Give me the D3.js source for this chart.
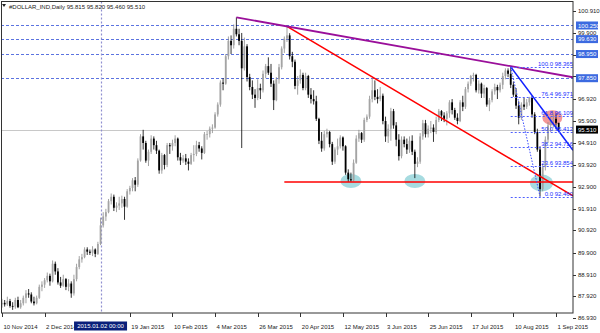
<!DOCTYPE html>
<html>
<head>
<meta charset="utf-8">
<script src="https://cdn.jsdelivr.net/npm/d3@7"></script>
<style>
  body { margin: 0; background: #fff; }
  text { font-family: "Liberation Sans", Arial, sans-serif; }
</style>
</head>
<body>
<svg id="chart" width="600" height="333"></svg>
<script>
// daily bars, one row per day: [day, open, high, low, close]
const nov14 = [
  [10,87.55,87.80,87.40,87.62],[11,87.62,87.75,87.45,87.55],[12,87.55,87.90,87.48,87.70],
  [13,87.70,87.80,87.40,87.48],[14,87.48,87.65,87.30,87.45],[17,87.45,87.85,87.35,87.75],
  [18,87.75,87.90,87.38,87.42],[19,87.42,87.75,87.35,87.60],[20,87.60,87.95,87.50,87.85],
  [21,87.85,88.20,87.60,88.05],[24,88.05,88.25,87.85,88.00],[25,88.00,88.10,87.60,87.68],
  [26,87.68,87.90,87.50,87.60],[27,87.60,87.95,87.55,87.85],[28,87.85,88.45,87.80,88.35]
];
const dec14 = [
  [1,88.35,88.60,88.15,88.45],[2,88.45,88.75,88.30,88.65],[3,88.65,89.00,88.55,88.85],
  [4,88.85,88.95,88.40,88.60],[5,88.60,89.55,88.55,89.40],[8,89.40,89.50,88.90,89.05],
  [9,89.05,89.20,88.45,88.55],[10,88.55,88.80,88.30,88.40],[11,88.40,88.90,88.35,88.70],
  [12,88.70,88.75,88.20,88.35],[15,88.35,88.70,88.15,88.50],[16,88.50,88.60,87.85,88.05],
  [17,88.05,88.90,87.95,88.70],[18,88.70,89.40,88.60,89.25],[19,89.25,89.75,89.15,89.60],
  [22,89.60,89.85,89.45,89.70],[23,89.70,90.15,89.65,90.05],[24,90.05,90.15,89.80,89.95],
  [26,89.95,90.05,89.80,89.90],[29,89.90,90.20,89.75,90.05],[30,90.05,90.10,89.70,89.85],
  [31,89.85,90.40,89.80,90.30]
];
const jan15 = [
  [2,90.30,91.50,90.25,91.15],[5,91.15,91.75,91.05,91.55],[6,91.55,91.90,91.35,91.75],
  [7,91.75,92.35,91.70,92.25],[8,92.25,92.60,92.10,92.45],[9,92.45,92.55,91.80,91.95],
  [12,91.95,92.20,91.75,92.05],[13,92.05,92.45,91.85,92.15],[14,92.15,92.50,91.95,92.35],
  [15,92.35,92.45,91.40,92.00],[16,92.00,92.80,91.95,92.70],[19,92.70,92.95,92.55,92.85],
  [20,92.85,93.30,92.70,93.20],[21,93.20,93.35,92.70,93.00],[22,93.00,94.20,92.90,94.10],
  [23,94.10,95.30,94.05,95.20],[26,95.20,95.50,94.60,94.90],[27,94.90,95.00,94.00,94.10],
  [28,94.10,94.60,93.85,94.50],[29,94.50,95.25,94.40,95.10],[30,95.10,95.20,94.60,94.80]
];
const feb15 = [
  [2,94.80,95.00,94.40,94.55],[3,94.55,94.60,93.50,93.65],[4,93.65,94.45,93.50,94.35],
  [5,94.35,94.40,93.70,93.90],[6,93.90,94.90,93.80,94.80],[9,94.80,94.90,94.40,94.75],
  [10,94.75,95.05,94.55,94.90],[11,94.90,95.25,94.75,95.10],[12,95.10,95.15,94.10,94.25],
  [13,94.25,94.45,93.90,94.10],[16,94.10,94.35,94.00,94.20],[17,94.20,94.40,93.90,94.05],
  [18,94.05,94.20,93.65,93.95],[19,93.95,94.45,93.90,94.35],[20,94.35,94.80,94.05,94.40],
  [23,94.40,95.00,94.30,94.80],[24,94.80,94.95,94.50,94.65],[25,94.65,94.75,94.15,94.45],
  [26,94.45,95.40,94.40,95.30],[27,95.30,95.45,95.05,95.30]
];
const mar15 = [
  [2,95.30,95.65,95.15,95.55],[3,95.55,95.75,95.35,95.60],[4,95.60,96.30,95.55,96.20],
  [5,96.20,96.75,96.10,96.65],[6,96.65,97.75,96.55,97.65],[9,97.65,97.85,97.30,97.60],
  [10,97.60,98.95,97.55,98.85],[11,98.85,99.75,98.70,99.55],[12,99.55,99.80,98.95,99.35],
  [13,99.35,100.30,99.20,100.10],[16,100.10,100.62,99.75,99.85],[17,99.85,100.10,99.35,99.55],
  [18,99.55,99.91,94.67,98.30],[19,98.30,99.70,98.20,99.30],[20,99.30,99.40,97.70,97.90],
  [23,97.90,98.05,97.30,97.45],[24,97.45,97.75,96.90,97.10],[25,97.10,97.35,96.50,96.95],
  [26,96.95,97.80,96.85,97.40],[27,97.40,97.60,96.90,97.30],[30,97.30,98.20,97.20,98.05],
  [31,98.05,98.50,97.85,98.40]
];
const apr15 = [
  [1,98.40,98.80,98.00,98.10],[2,98.10,98.50,97.45,97.60],[6,97.60,97.75,96.40,96.85],
  [7,96.85,97.90,96.80,97.80],[8,97.80,98.50,97.60,98.35],[9,98.35,99.30,98.25,99.20],
  [10,99.20,99.75,99.00,99.65],[13,99.65,100.22,99.50,99.80],[14,99.80,99.90,98.70,98.85],
  [15,98.85,99.05,98.35,98.60],[16,98.60,98.70,97.35,97.50],[17,97.50,97.95,97.10,97.75],
  [20,97.75,98.25,97.60,98.00],[21,98.00,98.10,97.30,97.40],[22,97.40,98.10,97.30,97.95],
  [23,97.95,98.00,96.95,97.10],[24,97.10,97.40,96.70,96.90],[27,96.90,97.30,96.65,96.80],
  [28,96.80,97.05,95.90,96.00],[29,96.00,96.05,94.85,95.00],[30,95.00,95.40,94.50,94.65]
];
const may15 = [
  [1,94.65,95.45,94.55,95.30],[4,95.30,95.55,95.15,95.40],[5,95.40,95.45,94.70,94.85],
  [6,94.85,94.95,93.90,94.05],[7,94.05,94.70,93.95,94.60],[8,94.60,95.10,94.35,94.75],
  [11,94.75,95.25,94.65,95.15],[12,95.15,95.20,94.55,94.75],[13,94.75,94.80,93.45,93.55],
  [14,93.55,93.70,93.13,93.25],[15,93.25,93.55,93.13,93.20],[18,93.20,94.15,93.15,94.00],
  [19,94.00,95.25,93.95,95.10],[20,95.10,95.50,94.95,95.35],[21,95.35,95.40,94.90,95.05],
  [22,95.05,96.05,94.95,95.95],[25,95.95,96.20,95.85,96.10],[26,96.10,97.05,96.00,96.90],
  [27,96.90,97.85,96.75,97.30],[28,97.30,97.75,96.85,97.00],[29,97.00,97.35,96.70,96.90]
];
const jun15 = [
  [1,96.90,97.45,96.80,97.05],[2,97.05,97.15,95.75,95.90],[3,95.90,96.10,94.95,95.20],
  [4,95.20,95.75,94.90,95.55],[5,95.55,96.50,95.00,96.35],[8,96.35,96.45,95.55,95.70],
  [9,95.70,95.85,94.75,95.05],[10,95.05,95.30,94.10,94.30],[11,94.30,95.20,94.20,95.05],
  [12,95.05,95.20,94.70,94.85],[15,94.85,95.10,94.40,94.60],[16,94.60,95.20,94.45,95.00],
  [17,95.00,95.25,94.35,94.50],[18,94.50,94.60,93.30,93.95],[19,93.95,94.25,93.80,94.05],
  [22,94.05,95.35,93.95,95.20],[23,95.20,95.95,95.05,95.80],[24,95.80,95.95,95.15,95.30],
  [25,95.30,95.70,95.15,95.55],[26,95.55,95.90,95.35,95.60],[29,95.60,95.75,94.95,95.40],
  [30,95.40,96.10,95.30,95.95]
];
const jul15 = [
  [1,95.95,96.45,95.85,96.35],[2,96.35,96.40,95.90,96.15],[3,96.15,96.30,95.85,96.00],
  [6,96.00,96.35,95.70,96.25],[7,96.25,96.85,96.05,96.75],[8,96.75,96.90,96.20,96.40],
  [9,96.40,96.50,95.95,96.05],[10,96.05,96.25,95.75,95.90],[13,95.90,96.85,95.85,96.75],
  [14,96.75,97.05,96.35,96.55],[15,96.55,97.45,96.45,97.35],[16,97.35,97.70,97.20,97.60],
  [17,97.60,98.00,97.50,97.95],[20,97.95,98.10,97.70,98.00],[21,98.00,98.05,97.20,97.30],
  [22,97.30,97.75,97.15,97.60],[23,97.60,97.65,96.95,97.15],[24,97.15,97.55,96.95,97.40],
  [27,97.40,97.45,96.55,96.65],[28,96.65,96.95,96.35,96.85],[29,96.85,97.35,96.75,97.25],
  [30,97.25,97.60,97.10,97.45],[31,97.45,97.55,96.90,97.30]
];
const aug15 = [
  [3,97.30,97.65,97.20,97.55],[4,97.55,98.10,97.35,97.95],[5,97.95,98.30,97.80,98.20],
  [6,98.20,98.30,97.90,98.05],[7,98.05,98.365,97.40,97.55],[10,97.55,97.70,97.00,97.10],
  [11,97.10,97.40,96.45,96.60],[12,96.60,96.80,95.75,96.05],[13,96.05,96.75,95.95,96.65],
  [14,96.65,96.95,96.40,96.55],[17,96.55,96.90,96.45,96.75],[18,96.75,97.00,96.60,96.95],
  [19,96.95,97.05,96.05,96.20],[20,96.20,96.30,95.30,95.40],[21,95.40,95.55,94.50,94.60],
  [24,94.60,94.75,92.46,92.80],[25,92.80,93.95,92.70,93.80],[26,93.80,95.20,93.65,95.05],
  [27,95.05,95.85,94.90,95.70],[28,95.70,96.10,95.40,95.95],[31,95.95,96.20,95.60,96.00]
];
const sep15 = [
  [1,96.00,96.25,95.55,95.815],[2,95.815,95.820,95.460,95.510]
];

const monthRows = [
  ["2014-11", nov14], ["2014-12", dec14], ["2015-01", jan15], ["2015-02", feb15],
  ["2015-03", mar15], ["2015-04", apr15], ["2015-05", may15], ["2015-06", jun15],
  ["2015-07", jul15], ["2015-08", aug15], ["2015-09", sep15]
];

// axis labels
const yTicks = [100.910, 99.900, 98.920, 97.930, 96.920, 95.900, 94.910, 93.920,
                92.900, 91.910, 90.920, 89.900, 88.910, 87.920, 86.930];
const xTickDates = ["2014-11-10", "2014-12-02", "2015-01-19", "2015-02-10", "2015-03-04",
                    "2015-03-26", "2015-04-20", "2015-05-12", "2015-06-03", "2015-06-25",
                    "2015-07-17", "2015-08-10", "2015-09-01"];
const markerDate = "2015-01-02";

// drawn objects
const hLevels = [100.250, 99.630, 98.950, 97.850];
const lastPrice = 95.510;
const fibLevels = [100.0, 76.4, 61.8, 50.0, 38.2, 23.6, 0.0];
const fibHigh = ["2015-08-07", 98.365];
const fibLow = ["2015-08-24", 92.460];
const purpleLine = [["2015-03-16", 100.62], ["2015-04-13", 100.21]];
const redLine = [["2015-04-13", 100.21], ["2015-08-24", 93.38]];
const supportLine = [["2015-04-10", 93.12], ["2015-08-24", 93.12]];
const blueLine = [["2015-08-07", 98.365], ["2015-08-24", 96.58]];
const touchDates = [["2015-05-15", 93.17], ["2015-06-18", 93.17], ["2015-08-24", 93.08]];
const hotSpot = ["2015-08-31", 96.05];

const parse = d3.timeParse("%Y-%m-%d");
const fmtDay = d3.timeFormat("%Y-%m-%d");
const bars = [];
monthRows.forEach(([ym, rows]) => {
  rows.forEach(r => {
    bars.push({ date: parse(ym + "-" + String(r[0]).padStart(2, "0")),
                o: r[1], h: r[2], l: r[3], c: r[4] });
  });
});
const idx = new Map(bars.map((b, i) => [fmtDay(b.date), i]));

const plotL = 1, plotR = 573, plotT = 1.5, plotB = 313;
const fs = 6;

const x = d3.scaleLinear().domain([0, 208]).range([2, 556]);
const y = d3.scaleLinear().domain([86.93, 100.91]).range([318, 11]);
const bx = d => x(idx.get(d));

const svg = d3.select("#chart");
svg.append("defs").append("clipPath").attr("id", "plot")
  .append("rect").attr("x", plotL).attr("y", plotT).attr("width", plotR - plotL).attr("height", plotB - plotT);

const plot = svg.append("g").attr("clip-path", "url(#plot)");

// ellipses sit behind the bars
plot.selectAll("ellipse.touch").data(touchDates).join("ellipse")
  .attr("class", "touch")
  .attr("cx", d => bx(d[0]) + (d[0] === "2015-08-24" ? 1.5 : 0))
  .attr("cy", d => y(d[1]))
  .attr("rx", (d, i) => i === 2 ? 11.5 : 10.5)
  .attr("ry", (d, i) => i === 2 ? 8.5 : 7)
  .attr("fill", "#a6dbe0");
plot.append("ellipse")
  .attr("cx", bx(hotSpot[0]) - 1).attr("cy", y(hotSpot[1]))
  .attr("rx", 10).attr("ry", 7.5)
  .attr("fill", "#f28c8c").attr("opacity", 0.9);

// horizontal price levels
plot.selectAll("line.hl").data(hLevels).join("line")
  .attr("x1", plotL).attr("x2", plotR)
  .attr("y1", d => Math.round(y(d)) + 0.5).attr("y2", d => Math.round(y(d)) + 0.5)
  .attr("stroke", "#5b73e0").attr("stroke-dasharray", "3,2");
plot.append("line")
  .attr("x1", plotL).attr("x2", plotR)
  .attr("y1", Math.round(y(lastPrice)) + 0.5).attr("y2", Math.round(y(lastPrice)) + 0.5)
  .attr("stroke", "#c8c8c8");

// vertical marker line
plot.append("line")
  .attr("x1", Math.round(bx(markerDate)) + 0.5).attr("x2", Math.round(bx(markerDate)) + 0.5)
  .attr("y1", plotT).attr("y2", plotB)
  .attr("stroke", "#8f8fd0").attr("stroke-width", 1.2).attr("stroke-dasharray", "2,2");

// candles
const bw = 1.8;
const candle = plot.append("g").selectAll("g").data(bars).join("g");
candle.append("line")
  .attr("x1", (d, i) => x(i)).attr("x2", (d, i) => x(i))
  .attr("y1", d => y(d.h)).attr("y2", d => y(d.l))
  .attr("stroke", d => d.c >= d.o ? "#8a8a8a" : "#000").attr("stroke-width", 0.8);
candle.append("rect")
  .attr("x", (d, i) => x(i) - bw / 2)
  .attr("y", d => y(Math.max(d.o, d.c)))
  .attr("width", bw)
  .attr("height", d => Math.max(0.8, Math.abs(y(d.o) - y(d.c))))
  .attr("fill", d => d.c >= d.o ? "#a4a4a4" : "#000");

// trend lines extended to the right edge
function ray(pts, color, width) {
  const x1 = bx(pts[0][0]), y1 = y(pts[0][1]);
  const x2 = bx(pts[1][0]), y2 = y(pts[1][1]);
  const slope = (y2 - y1) / (x2 - x1);
  plot.append("line")
    .attr("x1", x1).attr("y1", y1)
    .attr("x2", plotR).attr("y2", y1 + slope * (plotR - x1))
    .attr("stroke", color).attr("stroke-width", width);
}
ray(supportLine, "#ff0000", 1.6);
ray(redLine, "#ff0000", 1.6);
ray(purpleLine, "#9a0f9a", 1.8);
ray(blueLine, "#1020ff", 1.6);

// fibonacci retracement
const fx1 = bx(fibHigh[0]), fx2 = bx(fibLow[0]);
plot.append("line")
  .attr("x1", fx1).attr("y1", y(fibHigh[1])).attr("x2", fx2).attr("y2", y(fibLow[1]))
  .attr("stroke", "#3a4cff").attr("stroke-dasharray", "1.5,1.5");
const fibPrice = lv => fibLow[1] + (fibHigh[1] - fibLow[1]) * lv / 100;
plot.selectAll("line.fib").data(fibLevels).join("line")
  .attr("x1", fx1).attr("x2", plotR)
  .attr("y1", d => Math.round(y(fibPrice(d))) + 0.5).attr("y2", d => Math.round(y(fibPrice(d))) + 0.5)
  .attr("stroke", "#4f5fff").attr("stroke-dasharray", "2,2");
plot.selectAll("text.fib").data(fibLevels).join("text")
  .attr("x", plotR).attr("y", d => Math.round(y(fibPrice(d))) - 1)
  .attr("text-anchor", "end").attr("font-size", fs).attr("fill", "#2030ff")
  .text(d => d3.format(".1f")(d) + " " + d3.format(".3f")(fibPrice(d)));

// frame
svg.append("rect").attr("x", plotL + 0.5).attr("y", plotT).attr("width", plotR - plotL - 0.5).attr("height", plotB - plotT)
  .attr("fill", "none").attr("stroke", "#333").attr("stroke-width", 1);

// y axis; labels sitting under a price tag are hidden as in the terminal
const tagged = hLevels.concat([lastPrice]);
const shownTicks = yTicks.filter(v => tagged.every(t => Math.abs(y(t) - y(v)) > 5));
const yAxis = svg.append("g");
yAxis.selectAll("line").data(yTicks).join("line")
  .attr("x1", plotR).attr("x2", plotR + 3)
  .attr("y1", d => Math.round(y(d)) + 0.5).attr("y2", d => Math.round(y(d)) + 0.5)
  .attr("stroke", "#333");
yAxis.selectAll("text").data(shownTicks).join("text")
  .attr("x", plotR + 5).attr("y", d => y(d) + 2.1)
  .attr("font-size", fs).attr("fill", "#222")
  .text(d => d3.format(".3f")(d));

function priceTag(v, bg) {
  const g = svg.append("g");
  g.append("rect").attr("x", plotR + 3).attr("y", y(v) - 4).attr("width", 22).attr("height", 8).attr("fill", bg);
  g.append("text").attr("x", plotR + 5).attr("y", y(v) + 2.1)
    .attr("font-size", fs).attr("fill", "#fff").text(d3.format(".3f")(v));
}
hLevels.forEach(v => priceTag(v, "#3c6ae0"));
priceTag(lastPrice, "#000");

// x axis; the marker box is drawn over the label under it
const mx = bx(markerDate);
const xAxis = svg.append("g");
xAxis.selectAll("line").data(xTickDates).join("line")
  .attr("x1", d => Math.round(bx(d)) + 0.5).attr("x2", d => Math.round(bx(d)) + 0.5)
  .attr("y1", plotB).attr("y2", plotB + 4).attr("stroke", "#333");
xAxis.selectAll("text").data(xTickDates).join("text")
  .attr("x", d => bx(d) + 1.5).attr("y", 328.5)
  .attr("font-size", fs).attr("fill", "#222")
  .text(d => d3.timeFormat("%-d %b %Y")(parse(d)));
svg.append("rect").attr("x", mx - 26.5).attr("y", 321.5).attr("width", 53).attr("height", 9).attr("fill", "#0a1f7a");
svg.append("text").attr("x", mx).attr("y", 328.3).attr("text-anchor", "middle")
  .attr("font-size", fs).attr("fill", "#fff")
  .text(d3.timeFormat("%Y.%m.%d %H:%M")(parse(markerDate)));

// title
svg.append("path").attr("d", "M2,4 L6,4 L4,7 Z").attr("fill", "#222");
svg.append("text").attr("x", 9).attr("y", 8.5).attr("font-size", fs).attr("fill", "#222")
  .text("#DOLLAR_IND,Daily  95.815 95.820 95.460 95.510");
</script>
</body>
</html>
